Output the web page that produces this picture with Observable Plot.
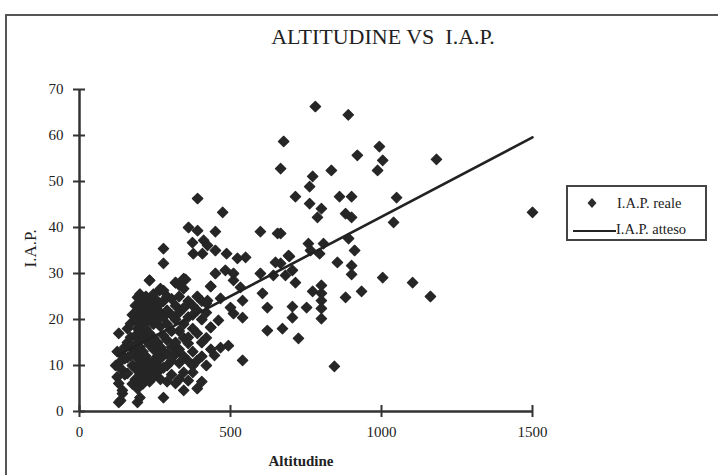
<!DOCTYPE html>
<html><head><meta charset="utf-8">
<script src="https://cdn.jsdelivr.net/npm/d3@7"></script>
<script src="https://cdn.jsdelivr.net/npm/@observablehq/plot@0.6"></script>
<style>
body{margin:0;background:#fff;}
#wrap{position:relative;width:718px;height:475px;overflow:hidden;font-family:"Liberation Serif","Times New Roman",serif;color:#222;}
#frame{position:absolute;left:5px;top:14px;width:730px;height:490px;border:2px solid #555;box-sizing:border-box;pointer-events:none;}
#title{position:absolute;left:0;width:766px;top:24px;text-align:center;font-size:22px;line-height:26px;white-space:pre;}
#legend{position:absolute;left:566px;top:185px;width:141px;height:56px;border:2px solid #444;box-sizing:border-box;font-size:14.5px;}
#legend .row{position:absolute;left:0;white-space:nowrap;line-height:16px;}
#chart{position:absolute;left:0;top:0;}
</style></head>
<body>
<div id="wrap">
  <div id="chart"></div>
  <div id="frame"></div>
  <div id="title">ALTITUDINE VS  I.A.P.</div>
  <div id="legend">
    <div class="row" style="top:8px;left:18px;"><svg width="12" height="12" style="vertical-align:-1px"><path d="M6,1L10.5,6L6,11L1.5,6Z" fill="#2b2b2b"/></svg><span style="margin-left:19px">I.A.P. reale</span></div>
    <div class="row" style="top:34px;left:5px;"><span style="display:inline-block;width:43px;border-top:2px solid #222;vertical-align:2px"></span><span>I.A.P. atteso</span></div>
  </div>
</div>
<script>
// Altitudine (x) and I.A.P. reale (y)
const altitudine = [
  // upper / right region
  781,890,676,993,920,1004,1182,987,834,666,772,762,715,861,901,1050,762,801,788,881,901,1500,1040,666,758,808,765,891,911,695,795,666,854,901,901,705,682,715,1004,1103,1162,772,801,801,934,881,801,752,705,801,705,801,672,725,844,
  // middle region
  391,474,361,391,450,374,411,424,377,407,450,487,523,550,599,656,232,265,318,351,450,483,510,510,434,533,599,649,692,642,606,622,622,424,467,500,540,510,540,460,434,467,493,447,540,
  // dense cluster
  120,125,125,130,130,130,136,136,136,142,142,142,150,150,150,159,159,159,159,169,169,169,169,175,175,175,
  185,185,185,185,185,185,192,192,192,192,192,192,192,192,
  200,200,200,200,200,200,200,200,200,200,
  210,210,210,210,210,210,210,210,
  220,220,220,220,220,220,220,220,220,
  232,232,232,232,232,232,232,232,232,
  245,245,245,245,245,245,245,245,245,
  258,258,258,258,258,258,258,
  268,268,268,268,268,268,268,
  278,278,278,278,278,278,278,278,278,
  290,290,290,290,290,290,290,
  305,305,305,305,305,305,
  318,318,318,318,318,318,
  330,330,330,330,330,330,330,
  345,345,345,345,345,345,345,345,
  360,360,360,360,360,360,
  375,375,375,375,375,375,
  390,390,390,390,390,
  405,405,405,405,405,
  420,420,420,420,
  435,435,435
];
const iapReale = [
  66.3,64.5,58.7,57.6,55.7,54.6,54.8,52.4,52.4,52.8,51.1,48.9,46.7,46.7,46.7,46.5,45.2,44.1,42.2,43.0,42.2,43.3,41.1,38.7,36.5,36.5,35.0,37.6,35.0,33.7,34.3,32.2,32.4,31.7,29.8,30.7,29.6,28.0,29.1,28.0,25.0,26.1,27.4,25.7,26.1,24.8,24.1,22.6,22.8,22.4,20.4,20.2,18.0,15.9,9.8,
  46.3,43.3,40.0,39.3,39.1,36.7,37.2,36.1,34.3,34.3,35.0,34.3,33.3,33.5,39.1,38.7,28.5,26.3,28.0,28.7,30.0,30.7,30.0,28.5,27.2,27.0,30.0,32.4,33.9,29.6,25.7,22.6,17.6,24.1,24.6,22.6,24.1,21.3,20.4,19.8,18.3,13.9,14.3,12.2,11.1,
  10.0,13.0,7.5,17.0,6.1,2.0,12.6,10.9,2.4,3.9,4.6,9.0,14.0,11.5,8.0,11.7,8.3,15.0,18.0,19.1,16.1,12.2,14.0,21.0,10.0,6.0,
  23.0,20.0,16.5,13.5,9.5,7.0,24.8,22.0,18.0,15.0,11.5,8.9,5.0,2.0,
  25.5,23.5,21.0,19.0,17.0,14.0,12.5,10.0,6.7,3.0,
  24.0,22.0,20.0,16.0,13.0,11.0,8.0,6.0,
  25.0,23.0,21.5,19.5,18.0,15.5,12.0,9.5,7.0,
  28.5,24.5,22.5,20.5,17.0,14.5,10.5,8.0,6.5,
  25.5,23.0,21.0,19.0,16.0,13.5,11.0,9.0,7.5,
  24.0,22.0,20.0,15.0,12.0,10.0,8.5,
  26.7,23.5,21.5,18.5,14.0,11.5,7.0,
  35.4,32.2,26.3,24.0,20.5,16.5,13.0,9.5,3.0,
  25.0,22.0,19.0,15.5,12.5,10.0,6.5,
  24.5,21.0,17.5,14.0,11.0,8.0,
  28.0,23.0,20.0,15.0,12.5,6.1,
  27.5,25.0,21.5,17.5,13.5,10.5,7.0,
  28.9,26.7,22.5,19.0,16.0,12.0,8.5,4.6,
  24.0,20.5,16.1,14.8,11.0,6.7,
  23.0,21.0,18.0,13.0,10.0,8.5,
  25.0,22.0,17.0,11.1,5.0,
  24.0,20.0,15.0,12.0,6.5,
  23.5,21.5,16.0,10.0,
  27.2,18.3,13.5
];
// I.A.P. atteso (regression line end points)
const attesoX = [130, 1500];
const attesoY = [12.3, 59.6];
const xTicks = [0, 500, 1000, 1500];
const yTicks = [0, 10, 20, 30, 40, 50, 60, 70];

const reale = altitudine.map((a, i) => ({a, v: iapReale[i]}));
const atteso = attesoX.map((a, i) => ({a, v: attesoY[i]}));

const chart = Plot.plot({
  width: 718, height: 475,
  marginLeft: 79, marginRight: 186, marginTop: 89, marginBottom: 64,
  style: {fontFamily: '"Liberation Serif","Times New Roman",serif', fontSize: "15px", color: "#222", background: "transparent", overflow: "visible"},
  x: {domain: [0, 1500]},
  y: {domain: [0, 70]},
  marks: [
    Plot.axisX(xTicks, {tickSize: 12, dy: -6, tickPadding: 9, tickFormat: d => String(d), label: null, stroke: "#333", strokeWidth: 2, fontSize: 15}),
    Plot.axisY(yTicks, {tickSize: 12, dx: 6, tickPadding: 10, tickFormat: d => String(d), label: null, stroke: "#333", strokeWidth: 2, fontSize: 15}),
    Plot.ruleY([0], {stroke: "#333", strokeWidth: 2.5}),
    Plot.ruleX([0], {y1: 0, y2: 70, stroke: "#333", strokeWidth: 2.5}),
    Plot.dot(reale, {x: "a", y: "v", symbol: "diamond2", r: 4.7, fill: "#262626", stroke: "#262626", strokeWidth: 1.2, strokeLinejoin: "round"}),
    Plot.line(atteso, {x: "a", y: "v", stroke: "#222", strokeWidth: 2.6}),
    Plot.text(["I.A.P."], {frameAnchor: "left", dx: -49, dy: 17, rotate: -90, fontSize: 17, fill: "#222"}),
    Plot.text(["Altitudine"], {frameAnchor: "bottom", dx: -5, dy: 54, fontSize: 15, fontWeight: "bold", fill: "#222"})
  ]
});
document.getElementById("chart").appendChild(chart);
</script>
</body></html>
